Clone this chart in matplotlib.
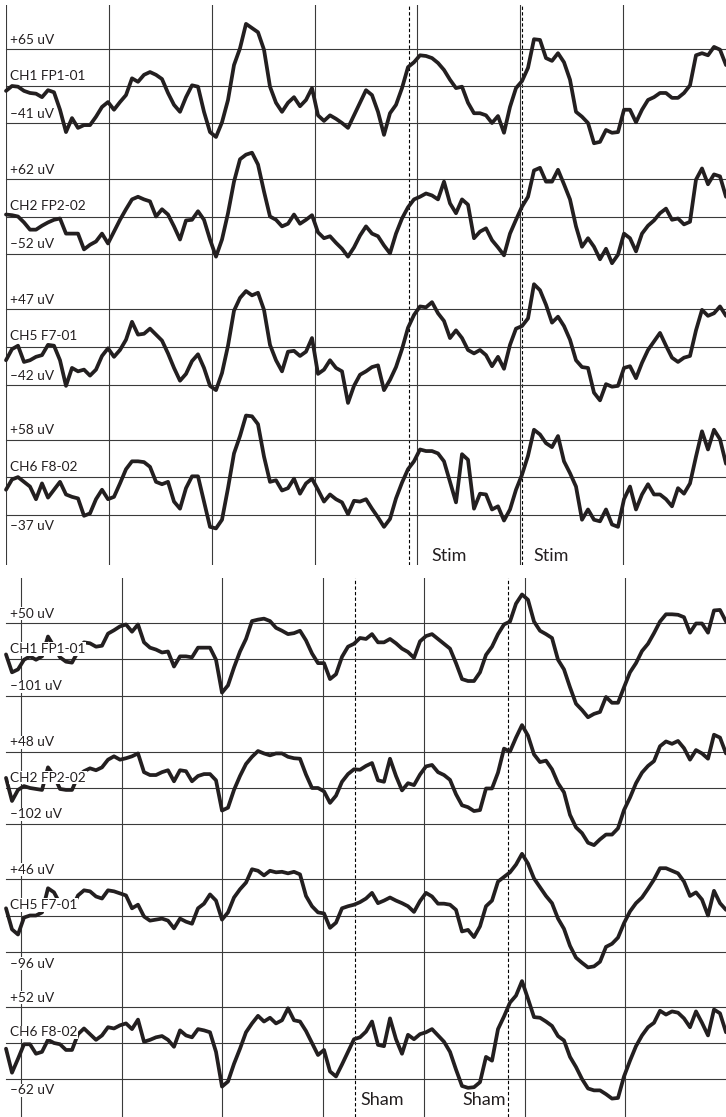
import numpy as np
import matplotlib.pyplot as plt

plt.rcParams['font.family'] = ['Lato', 'DejaVu Sans']

# EEG epochs, uV, 121 samples per channel
names = ['CH1 FP1-01', 'CH2 FP2-02', 'CH5 F7-01', 'CH6 F8-02']

# stimulation epoch (0..7 s)
stim_ch1 = [5, 12, 11, 5, 2, 1, -4, 6, 3, -22,
            -54, -34, -48, -44, -44, -32, -18, -11, -22, -11,
            -1, 23, 18, 28, 32, 28, 22, 2, -15, -25,
            -4, 13, 11, -25, -54, -61, -40, -8, 42, 66,
            101, 95, 89, 64, 11, -12, -25, -12, -4, -17,
            -8, 9, -30, -38, -30, -35, -41, -48, -30, -12,
            6, -1, -25, -58, -27, -15, 9, 39, 46, 56,
            55, 52, 45, 35, 21, 9, 11, -12, -27, -27,
            -30, -41, -31, -55, -18, 9, 19, 38, 79, 78,
            52, 48, 59, 46, 21, -25, -32, -41, -70, -68,
            -51, -55, -54, -22, -22, -40, -22, -8, -4, 2,
            2, -5, -5, 2, 13, 56, 59, 56, 68, 64,
            42]
stim_ch2 = [8, 7, 5, -4, -15, -15, -9, -4, 0, 2,
            -21, -21, -21, -45, -38, -33, -21, -36, -18, 0,
            16, 31, 35, 31, 28, 5, 16, 8, -10, -30,
            -1, 0, 13, 0, -30, -56, -30, 10, 58, 92,
            99, 102, 84, 43, 5, 0, -10, -6, 8, -6,
            0, 7, -19, -28, -25, -35, -44, -56, -42, -24,
            -10, -21, -25, -39, -51, -21, 2, 19, 31, 35,
            40, 37, 31, 58, 25, 10, 31, 23, -28, -18,
            -13, -31, -42, -54, -21, 0, 20, 35, 75, 79,
            58, 58, 76, 54, 31, -10, -41, -28, -41, -60,
            -44, -66, -53, -21, -28, -48, -21, -9, -1, 10,
            17, 0, 2, -7, -3, 61, 78, 54, 69, 66,
            35]
stim_ch5 = [-13, 0, 4, -15, -13, -9, -7, 5, 4, -13,
            -43, -22, -26, -24, -31, -24, -8, 1, -9, -1,
            11, 32, 17, 18, 24, 17, 10, -5, -22, -37,
            -29, -14, -6, -22, -43, -48, -28, 4, 45, 60,
            68, 63, 66, 46, 5, -13, -26, -3, -2, -8,
            -3, 13, -29, -24, -13, -22, -26, -63, -43, -30,
            -26, -21, -19, -48, -36, -21, 0, 25, 40, 50,
            49, 55, 42, 33, 13, 22, 13, -1, -5, -1,
            -7, -20, -9, -23, 5, 24, 27, 36, 76, 69,
            52, 31, 38, 27, 11, -13, -21, -22, -51, -60,
            -41, -44, -43, -22, -20, -34, -16, -1, 9, 19,
            4, -10, -15, -10, -8, 22, 46, 39, 42, 50,
            39]
stim_ch6 = [-5, 8, 11, 5, -1, -17, 3, -15, -5, 5,
            -11, -14, -16, -38, -35, -17, -5, -17, -14, 3,
            21, 31, 31, 30, 24, 5, 2, 5, -20, -29,
            -3, 12, 12, -20, -52, -54, -43, -3, 41, 63,
            89, 88, 78, 37, 5, 7, -6, -3, 9, -10,
            3, 9, -5, -20, -11, -17, -21, -36, -19, -20,
            -17, -29, -40, -52, -42, -16, 4, 21, 31, 46,
            44, 44, 41, 31, 5, -21, 40, 33, -29, -10,
            -11, -30, -26, -44, -30, -5, 14, 38, 71, 65,
            54, 49, 63, 31, 16, -1, -43, -30, -43, -45,
            -30, -49, -52, -17, -1, -30, -11, 2, -11, -11,
            -17, -26, -3, -10, 3, 37, 69, 46, 71, 59,
            28]

# sham epoch (-0.15..7 s)
sham_ch1 = [-15, -52, -46, -26, -19, -26, -19, 22, 1, -21,
            -30, -32, -9, 10, 8, 1, 3, 28, 35, 43,
            47, 32, 47, 10, -1, -5, -11, -9, -40, -19,
            -19, -21, -1, -1, -1, -26, -94, -79, -42, -9,
            17, 54, 57, 59, 54, 40, 34, 27, 29, 34,
            14, -13, -33, -33, -66, -56, -20, 1, 7, 19,
            17, 27, 10, 10, 17, 8, -3, -10, -22, 12,
            23, 27, 17, 7, -3, -33, -66, -70, -70, -52,
            -16, 1, 27, 47, 53, 90, 109, 98, 53, 34,
            27, 19, -26, -46, -83, -117, -130, -145, -138, -134,
            -103, -115, -115, -83, -52, -33, -8, 7, 29, 53,
            68, 68, 67, 62, 30, 49, 49, 30, 76, 77,
            53]
sham_ch2 = [-6, -54, -31, -23, -27, -29, -31, 16, -2, -29,
            -31, -31, -2, 8, 14, 10, 16, 32, 39, 32,
            35, 39, 45, 6, 0, 0, 6, 10, -13, 10,
            8, -13, -2, 2, 2, -11, -74, -68, -31, -2,
            23, 38, 50, 45, 41, 45, 45, 38, 35, 34,
            1, -27, -27, -34, -58, -43, -14, 2, 12, 11,
            19, 25, -11, -14, 34, -2, -32, -17, -21, 1,
            18, 21, 6, 0, -10, -40, -63, -67, -75, -73,
            -28, -28, 5, 55, 49, 78, 104, 82, 43, 27,
            30, 12, -17, -36, -83, -109, -121, -141, -146, -134,
            -124, -124, -111, -73, -47, -17, 5, 19, 29, 60,
            70, 65, 71, 56, 32, 52, 45, 34, 84, 78,
            45]
sham_ch5 = [-11, -52, -62, -29, -25, -25, -19, 28, 20, -2,
            -11, -11, 14, 24, 22, 12, 8, 24, 22, 18,
            14, -11, -4, -27, -35, -33, -31, -35, -50, -31,
            -37, -41, -11, -2, 16, 4, -33, -19, 10, 26,
            39, 65, 62, 53, 62, 59, 60, 57, 60, 55,
            13, -7, -19, -21, -49, -39, -11, -7, -4, 1,
            8, 19, -1, 4, 10, 4, -1, -7, -18, 3,
            19, 12, -2, -2, -4, -14, -56, -53, -67, -46,
            -7, 4, 41, 50, 59, 74, 95, 76, 47, 30,
            13, -1, -31, -51, -84, -107, -117, -126, -124, -115,
            -86, -80, -68, -40, -17, -1, 10, 27, 45, 67,
            67, 62, 57, 41, 13, 20, 6, -25, 23, -1,
            -14]
sham_ch6 = [-14, -52, -30, -7, -7, -22, -19, 0, -5, -7,
            -16, -16, 9, 18, 9, 0, 7, 20, 18, 23,
            26, 17, 32, -3, 0, 4, 6, 0, -11, 15,
            7, 4, 17, 15, 12, -19, -74, -66, -38, -14,
            12, 26, 38, 29, 35, 26, 31, 50, 31, 29,
            14, -5, -24, -16, -50, -58, -39, -19, 1, 4,
            13, 29, -8, -10, 34, 1, -22, 8, 1, 9,
            12, 17, 7, -3, -19, -47, -73, -76, -75, -67,
            -27, -33, 17, 37, 59, 70, 93, 65, 36, 35,
            29, 22, 6, -1, -27, -43, -62, -77, -80, -80,
            -86, -93, -92, -58, -33, -10, 7, 20, 27, 46,
            40, 45, 43, 34, 20, 45, 27, 7, 48, 42,
            12]

# display range per channel (upper / lower reference line, uV)
stim_hi = [65, 62, 47, 58]
stim_lo = [-41, -52, -42, -37]
sham_hi = [50, 48, 46, 52]
sham_lo = [-101, -102, -96, -62]

# event markers (s)
stim_marks = [3.92, 5.02]
sham_marks = [3.32, 4.84]

W, H = 726, 1117
fig = plt.figure(figsize=(W / 100, H / 100), dpi=100)

GRID = '#3a3a3a'
TRACE = '#231f20'


def box(x0, y0, x1, y1):
    # axes placed by pixel box (top-left origin)
    ax = fig.add_axes([x0 / W, 1 - y1 / H, (x1 - x0) / W, (y1 - y0) / H])
    ax.set_axis_off()
    ax.patch.set_alpha(0)
    return ax


def label(y, s):
    fig.text(10 / W, 1 - y / H, s, ha='left', va='center', fontsize=9.8,
             color='#231f20',
             bbox=dict(facecolor='white', edgecolor='none', pad=0.6))


def panel(top, bottom, t0, rows, traces, hi, lo, below, marks, word, word_x, word_y):
    bg = box(6, top, 726, bottom)
    bg.set_xlim(t0, 7)
    bg.set_ylim(0, 1)
    for s in range(7):
        bg.axvline(s, color=GRID, lw=0.8, zorder=1)
    for m in marks:
        bg.axvline(m, color='black', lw=0.8, ls=(0, (3, 2)), zorder=1)
    for wx in word_x:
        bg.text(wx, word_y, word, fontsize=13, color='#231f20',
                ha='left', va='center')

    for (y0, y1), v, h, l, nm, bl in zip(rows, traces, hi, lo, names, below):
        ax = box(6, y0, 726, y1)
        ax.set_xlim(t0, 7)
        ax.set_ylim(l, h)
        for level in (h, (h + l) / 2, l):
            ax.axhline(level, color=GRID, lw=0.8, clip_on=False, zorder=1)
        t = np.linspace(t0, 7, len(v))
        ax.plot(t, v, color=TRACE, lw=2.7, clip_on=False, zorder=3,
                solid_joinstyle='round', solid_capstyle='round')
        mid = (y0 + y1) / 2
        label(y0 - 9.5, '+%d uV' % h)
        label(mid - 10.5, nm)
        label(y1 + 11.5 if bl else y1 - 9.5, '\u2013%d uV' % abs(l))


panel(5, 565, 0.0,
      [(49, 123), (179, 254), (309, 385), (440, 515)],
      [stim_ch1, stim_ch2, stim_ch5, stim_ch6],
      stim_hi, stim_lo, [False, False, False, True],
      stim_marks, 'Stim', [4.14, 5.13], 0.016)

panel(578, 1117, -0.149,
      [(623, 696), (752, 824), (879, 952), (1007, 1079)],
      [sham_ch1, sham_ch2, sham_ch5, sham_ch6],
      sham_hi, sham_lo, [False, False, True, True],
      sham_marks, 'Sham', [3.37, 4.38], 0.032)

fig.savefig('out.png', dpi=100, facecolor='white')
